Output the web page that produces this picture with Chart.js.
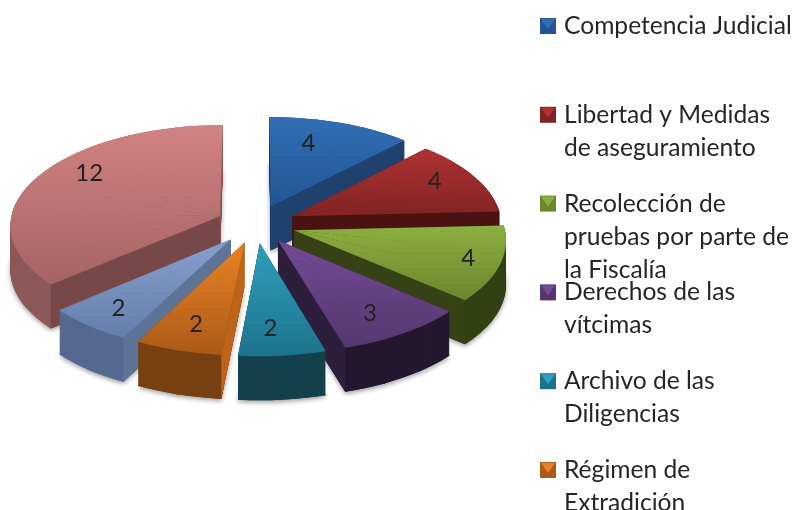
<!DOCTYPE html>
<html><head><meta charset="utf-8">
<script src="https://cdn.jsdelivr.net/npm/chart.js@4"></script>
<style>html,body{margin:0;padding:0;background:#fff;overflow:hidden}#wrap{width:793px;height:510px;position:relative}canvas{filter:blur(0.5px)}</style>
</head><body><div id="wrap"><canvas id="c" width="793" height="510"></canvas></div>
<script>
const categories = ['Competencia Judicial','Libertad y Medidas de aseguramiento','Recolección de pruebas por parte de la Fiscalía','Derechos de las vítcimas','Archivo de las Diligencias','Régimen de Extradición','',''];
const values = [4,4,4,3,2,2,2,12];
const legendLines = [['Competencia Judicial'],['Libertad y Medidas','de aseguramiento'],['Recolección de','pruebas por parte de','la Fiscalía'],['Derechos de las','vítcimas'],['Archivo de las','Diligencias'],['Régimen de','Extradición']];
const topLight = ['#326eb4','#af3232','#8caf41','#734b96','#2da0be','#eb8223','#87a0cd','#d28282'];
const topDark  = ['#235596','#822323','#69872d','#55376e','#1e738c','#aa5a19','#647daa','#a56464'];
const rimColor = ['#1e416e','#501414','#324114','#241830','#14414e','#784112','#556991','#8c5858'];
const cutColor = ['#1e416e','#4b1212','#374116','#2d1e3c','#14414e','#be6419','#5f7396','#784848'];
const drawOrder = [0,7,1,2,6,5,3,4];
const labelShare = [0.35,0.42,0.48,0.55,0.61,0.5,0.52,0.58];
const labelRadius = [0.73,0.8,0.84,0.77,0.76,0.76,0.8,0.81];
const tilt = {a:210,b:100,k:0.085,explode:0.19,wall:44,maxWedge:Math.PI/12};
const legendPitch = 88.8, legendTop = 26, lineHeight = 33, legendX = 540, legendTextX = 564;

function project(c,X,Y){const w=1-tilt.k*Y;return [c.x+tilt.a*X/w,c.y+tilt.b*Y/w];}
function geom(el){
  const mid=(el.startAngle+el.endAngle)/2, ex=tilt.explode*Math.cos(mid), ey=tilt.explode*Math.sin(mid);
  const at=(ang,f)=>project(el,ex+f*Math.cos(ang),ey+f*Math.sin(ang));
  const p0=at(0,0),p1=at(el.startAngle,1),p2=at(el.endAngle,1);
  let yMin=p0[1],yMax=p0[1];
  for(let i=0;i<=24;i++){const q=at(el.startAngle+(el.endAngle-el.startAngle)*i/24,1);yMin=Math.min(yMin,q[1]);yMax=Math.max(yMax,q[1]);}
  const n=Math.max(1,Math.ceil((el.endAngle-el.startAngle)/tilt.maxWedge)),wedges=[],step=(el.endAngle-el.startAngle)/n;
  for(let i=0;i<n;i++){
    const s=el.startAngle+i*step,e=el.startAngle+(i+1)*step,R=el.outerRadius;
    const a1=at(s,1),a2=at(e,1);
    const ux=R*Math.cos(s),uy=R*Math.sin(s),vx=R*Math.cos(e),vy=R*Math.sin(e);
    const det=ux*vy-vx*uy,sx=a1[0]-p0[0],sy=a1[1]-p0[1],tx=a2[0]-p0[0],ty=a2[1]-p0[1];
    const a=(sx*vy-tx*uy)/det,c=(tx*ux-sx*vx)/det,b=(sy*vy-ty*uy)/det,d=(ty*ux-sy*vx)/det;
    wedges.push({s,e:i<n-1?e+0.006:e,m:[a,b,c,d,p0[0]-a*el.x-c*el.y,p0[1]-b*el.x-d*el.y]});
  }
  return {p0,p1,p2,yMin,yMax,at,wedges};
}
function drawWedge(ctx,el,w,fill,dy){
  const o=el.options,st=el.startAngle,en=el.endAngle,ci=el.circumference;
  el.options=Object.assign({},o,{backgroundColor:fill,borderWidth:0});
  el.startAngle=w.s;el.endAngle=w.e;el.circumference=w.e-w.s;
  const m=w.m;
  ctx.setTransform(m[0],m[1],m[2],m[3],m[4],m[5]+dy);
  el.draw(ctx);
  el.startAngle=st;el.endAngle=en;el.circumference=ci;el.options=o;
}
function face(ctx,a,b,h,color){
  ctx.fillStyle=color;ctx.beginPath();ctx.moveTo(a[0],a[1]);ctx.lineTo(b[0],b[1]);ctx.lineTo(b[0],b[1]+h);ctx.lineTo(a[0],a[1]+h);ctx.closePath();ctx.fill();
}
const pie3d={
  id:'pie3d',
  beforeDatasetsDraw(chart){
    const ctx=chart.ctx, arcs=chart.getDatasetMeta(0).data;
    drawOrder.forEach(i=>{
      const el=arcs[i],g=geom(el),h=tilt.wall;
      ctx.save();
      ctx.shadowColor='rgba(0,0,0,0.4)';ctx.shadowBlur=5;ctx.shadowOffsetY=2;
      g.wedges.forEach(w=>drawWedge(ctx,el,w,rimColor[i],h));
      ctx.shadowColor='transparent';ctx.shadowBlur=0;ctx.shadowOffsetY=0;
      for(let s=h;s>=0;s--)g.wedges.forEach(w=>drawWedge(ctx,el,w,rimColor[i],s));
      ctx.setTransform(1,0,0,1,0,0);
      if(-Math.cos(el.startAngle)>0.001)face(ctx,g.p0,g.p1,h,cutColor[i]);
      if(Math.cos(el.endAngle)>0.001)face(ctx,g.p0,g.p2,h,cutColor[i]);
      g.wedges.forEach(w=>{
        const m=w.m,n=m[1]*m[1]+m[3]*m[3];
        const t0=(g.yMin-g.p0[1])/n,t1=(g.yMax-g.p0[1])/n;
        const grad=ctx.createLinearGradient(el.x+m[1]*t0,el.y+m[3]*t0,el.x+m[1]*t1,el.y+m[3]*t1);
        grad.addColorStop(0,topLight[i]);grad.addColorStop(1,topDark[i]);
        drawWedge(ctx,el,w,grad,0);
      });
      ctx.restore();
    });
    return false;
  },
  afterDraw(chart){
    const ctx=chart.ctx, arcs=chart.getDatasetMeta(0).data;
    ctx.save();
    ctx.fillStyle='#222';ctx.font='24px Lato';ctx.textAlign='center';ctx.textBaseline='middle';
    arcs.forEach((el,i)=>{const g=geom(el),q=g.at(el.startAngle+(el.endAngle-el.startAngle)*labelShare[i],labelRadius[i]);ctx.fillText(String(values[i]),q[0]+1,q[1]+1);});
    ctx.restore();
    ctx.save();
    legendLines.forEach((lines,i)=>{
      const y=legendTop+legendPitch*i,x=legendX,s=16;
      ctx.fillStyle=topDark[i];ctx.fillRect(x,y-8,s,s);
      ctx.fillStyle=topLight[i];ctx.beginPath();ctx.moveTo(x+1,y-7);ctx.lineTo(x+s-1,y-7);ctx.lineTo(x+s/2,y+3);ctx.closePath();ctx.fill();
      ctx.fillStyle='#262626';ctx.font='24.6px Lato';ctx.textAlign='left';ctx.textBaseline='middle';
      lines.forEach((t,j)=>ctx.fillText(t,legendTextX,y+j*lineHeight));
    });
    ctx.restore();
  }
};
new Chart(document.getElementById('c'),{
  type:'pie',
  data:{labels:categories,datasets:[{data:values,backgroundColor:topLight,borderWidth:0}]},
  options:{responsive:false,animation:false,events:[],
    layout:{padding:{right:281,bottom:62}},
    plugins:{legend:{display:false},tooltip:{enabled:false}}},
  plugins:[pie3d]
});
</script></body></html>
